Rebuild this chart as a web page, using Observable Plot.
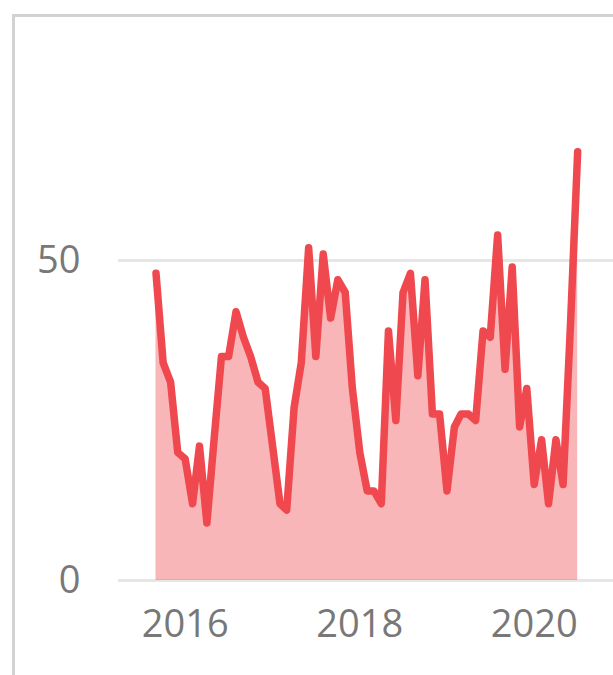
<!DOCTYPE html>
<html><head><meta charset="utf-8">
<script src="https://cdn.jsdelivr.net/npm/d3@7"></script>
<script src="https://cdn.jsdelivr.net/npm/@observablehq/plot@0.6"></script>
<style>
html,body{margin:0;padding:0;background:#fff;overflow:hidden}
#wrap{position:relative;width:613px;height:675px;overflow:hidden}
#frame{position:absolute;left:12px;top:14px;width:700px;height:800px;border-left:3px solid #d2d2d2;border-top:3px solid #d2d2d2;pointer-events:none}
#chart{position:absolute;left:0;top:0}
</style></head><body>
<div id="wrap"><div id="chart"></div><div id="frame"></div></div>
<script>
const months = [
  "2015-09","2015-10","2015-11","2015-12",
  "2016-01","2016-02","2016-03","2016-04","2016-05","2016-06","2016-07","2016-08","2016-09","2016-10","2016-11","2016-12",
  "2017-01","2017-02","2017-03","2017-04","2017-05","2017-06","2017-07","2017-08","2017-09","2017-10","2017-11","2017-12",
  "2018-01","2018-02","2018-03","2018-04","2018-05","2018-06","2018-07","2018-08","2018-09","2018-10","2018-11","2018-12",
  "2019-01","2019-02","2019-03","2019-04","2019-05","2019-06","2019-07","2019-08","2019-09","2019-10","2019-11","2019-12",
  "2020-01","2020-02","2020-03","2020-04","2020-05","2020-06","2020-07"
];
const values = [
  48, 34, 31, 20,
  19, 12, 21, 9, 22, 35, 35, 42, 38, 35, 31, 30,
  21, 12, 11, 27, 34, 52, 35, 51, 41, 47, 45, 30,
  20, 14, 14, 12, 39, 25, 45, 48, 32, 47, 26, 26,
  14, 24, 26, 26, 25, 39, 38, 54, 33, 49, 24, 30,
  15, 22, 12, 22, 15, 40, 67
];
const xTicks = ["2016-01-01", "2018-01-01", "2020-01-01"];
const yTicks = [0, 50];
const xDomain = ["2015-03-28", "2020-11-28"];
const yDomain = [0, 70];

const data = months.map((m, i) => ({date: new Date(m + "-01T00:00:00Z"), value: values[i]}));

const chart = Plot.plot({
  width: 613, height: 675,
  marginLeft: 118, marginRight: 0, marginTop: 132, marginBottom: 95,
  style: {fontFamily: "'Open Sans', sans-serif", fontSize: "38px", color: "#787878", background: "transparent", overflow: "visible"},
  x: {type: "utc", domain: xDomain.map(d => new Date(d + "T00:00:00Z")), ticks: xTicks.map(d => new Date(d + "T00:00:00Z")),
      tickFormat: d3.utcFormat("%Y"), tickSize: 0, tickPadding: 30, label: null},
  y: {domain: yDomain, ticks: yTicks, tickSize: 0, tickPadding: 38, label: null},
  marks: [
    Plot.gridY(yTicks, {stroke: "#e6e6e6", strokeOpacity: 1, strokeWidth: 3}),
    Plot.areaY(data, {x: "date", y: "value", fill: "#ef484e", fillOpacity: 0.4}),
    Plot.lineY(data, {x: "date", y: "value", stroke: "#ef484e", strokeWidth: 7.5, strokeLinejoin: "round", strokeLinecap: "round"})
  ]
});
document.getElementById("chart").appendChild(chart);
</script>
</body></html>
